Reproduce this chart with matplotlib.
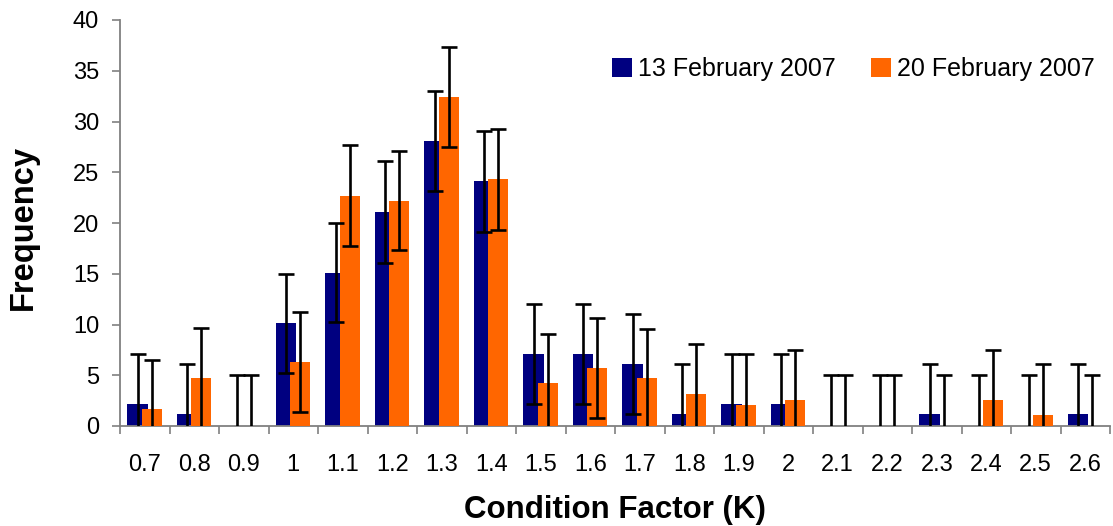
import matplotlib.pyplot as plt
import numpy as np

plt.rcParams['font.family'] = ['Liberation Sans', 'DejaVu Sans']

categories = ["0.7", "0.8", "0.9", "1", "1.1", "1.2", "1.3", "1.4", "1.5", "1.6",
              "1.7", "1.8", "1.9", "2", "2.1", "2.2", "2.3", "2.4", "2.5", "2.6"]
feb13 = [2.2, 1.2, 0, 10.1, 15.1, 21.1, 28.1, 24.1, 7.1, 7.1,
         6.1, 1.2, 2.2, 2.2, 0, 0, 1.2, 0, 0, 1.2]
feb13_err = [4.9, 4.9, 5.0, 4.9, 4.9, 5.0, 4.9, 5.0, 4.9, 4.9,
             4.9, 4.9, 4.9, 4.9, 5.0, 5.0, 4.9, 5.0, 5.0, 4.9]
feb20 = [1.7, 4.7, 0, 6.3, 22.7, 22.2, 32.4, 24.3, 4.2, 5.7,
         4.7, 3.2, 2.1, 2.6, 0, 0, 0, 2.6, 1.1, 0]
feb20_err = [4.8, 5.0, 5.0, 4.9, 5.0, 4.9, 4.9, 5.0, 4.9, 4.9,
             4.9, 4.9, 5.0, 4.9, 5.0, 5.0, 5.0, 4.9, 5.0, 5.0]

navy = "#000080"
orange = "#FF6600"
grey = "#808080"

fig = plt.figure(figsize=(11.13, 5.26), dpi=100)
ax = fig.add_axes([120 / 1113, 100 / 526, 990 / 1113, 406 / 526])

x = np.arange(len(categories))
w = 0.42
ax.bar(x - 0.145, feb13, w, color=navy, label="13 February 2007", zorder=2)
ax.bar(x + 0.145, feb20, w * 0.96, color=orange, label="20 February 2007", zorder=3)
ax.errorbar(x - 0.145, feb13, yerr=feb13_err, fmt="none", ecolor="black",
            elinewidth=1.9, capsize=6, capthick=1.9, zorder=4)
ax.errorbar(x + 0.145, feb20, yerr=feb20_err, fmt="none", ecolor="black",
            elinewidth=1.9, capsize=6, capthick=1.9, zorder=4)

ax.set_xlim(-0.5, len(categories) - 0.5)
ax.set_ylim(0, 40)
ax.set_yticks(range(0, 41, 5))
ax.set_xticks(x)
ax.set_xticklabels(categories)
ax.set_xticks(np.arange(len(categories) + 1) - 0.5, minor=True)

for s in ["top", "right"]:
    ax.spines[s].set_visible(False)
for s in ["left", "bottom"]:
    ax.spines[s].set_color(grey)
    ax.spines[s].set_linewidth(1.3)

ax.tick_params(axis="y", length=6, width=1.2, color=grey, pad=9, labelsize=17)
ax.tick_params(axis="x", which="major", length=0, pad=20, labelsize=17)
ax.tick_params(axis="x", which="minor", length=6, width=1.2, color=grey)

ax.set_xlabel("Condition Factor (K)", fontsize=22.5, fontweight="bold")
ax.xaxis.set_label_coords(0.5, -0.17)
ax.set_ylabel("Frequency", fontsize=23.5, fontweight="bold")
ax.yaxis.set_label_coords(-0.082, 0.49)

ax.legend(loc="center", bbox_to_anchor=(0.767, 0.869), bbox_transform=fig.transFigure,
          ncol=2, frameon=False, fontsize=18, handlelength=0.8, handleheight=0.8,
          handletextpad=0.25, columnspacing=1.4, borderpad=0)

fig.savefig("out.png", dpi=100)
